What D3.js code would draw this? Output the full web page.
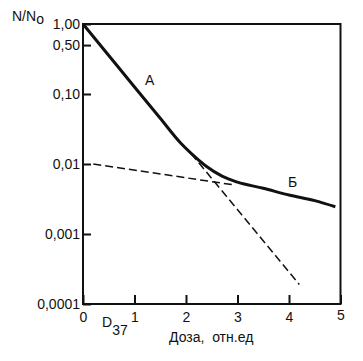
<!DOCTYPE html>
<html lang="ru">
<head>
  <meta charset="UTF-8" />
  <title>Кривая выживаемости</title>
  <script src="https://d3js.org/d3.v7.min.js"></script>
  <style>
    body { margin: 0; background: #fff; }
    svg { font-family: "Liberation Sans", Arial, sans-serif; }
    .axis text { font-size: 14px; fill: #111; }
    .lbl { font-size: 14px; fill: #111; }
  </style>
</head>
<body>
  <svg width="363" height="361"></svg>

  <script>
    // survival curve (dose, N/N0)
    const dose = [0, 0.5, 1.0, 1.5, 1.9, 2.1, 2.4, 2.7, 3.0, 3.5, 4.0, 4.5, 4.9];
    const survival = [1.0, 0.355, 0.126, 0.045, 0.0198, 0.0142, 0.0092, 0.0067, 0.0055, 0.0045, 0.0036, 0.003, 0.00245];

    // extrapolations (dashed)
    const steepDose = [2.1, 4.2];
    const steepVal = [0.0141, 0.00019];
    const shallowDose = [0.2, 2.95];
    const shallowVal = [0.01, 0.005];

    const xTicks = [0, 1, 2, 3, 4, 5];
    const yTicks = [1, 0.5, 0.1, 0.01, 0.001, 0.0001];
    const yTickLabels = ["1,00", "0,50", "0,10", "0,01", "0,001", "0,0001"];

    const mLeft = 83, mRight = 340.5, mTop = 24, mBottom = 304;

    const svg = d3.select("svg");

    const x = d3.scaleLinear().domain([0, 5]).range([mLeft, mRight]);
    const y = d3.scaleLog().domain([0.0001, 1]).range([mBottom, mTop]);

    // axes
    const xAxis = d3.axisBottom(x)
      .tickValues(xTicks)
      .tickFormat(d3.format("d"))
      .tickSizeInner(-9)
      .tickSizeOuter(0)
      .tickPadding(8);

    const yAxis = d3.axisLeft(y)
      .tickValues(yTicks)
      .tickFormat((d, i) => yTickLabels[i])
      .tickSizeInner(-8)
      .tickSizeOuter(0)
      .tickPadding(3);

    const gx = svg.append("g")
      .attr("class", "axis")
      .attr("transform", `translate(0,${mBottom})`)
      .call(xAxis);
    gx.select(".domain").remove();
    gx.selectAll("line").attr("stroke", "#111").attr("stroke-width", 2);
    gx.selectAll("text").attr("font-family", null).attr("font-size", null);
    gx.selectAll(".tick").filter(d => d === 5).select("text").attr("y", 6);

    const gy = svg.append("g")
      .attr("class", "axis")
      .attr("transform", `translate(${mLeft},0)`)
      .call(yAxis);
    gy.select(".domain").remove();
    gy.selectAll("line").attr("stroke", "#111").attr("stroke-width", 2);
    gy.selectAll("text").attr("font-family", null).attr("font-size", null);

    // frame
    svg.append("rect")
      .attr("x", mLeft).attr("y", mTop)
      .attr("width", mRight - mLeft).attr("height", mBottom - mTop)
      .attr("fill", "none")
      .attr("stroke", "#111")
      .attr("stroke-width", 2);

    const line = d3.line()
      .x(d => x(d[0]))
      .y(d => y(d[1]));

    // dashed extrapolations
    svg.append("path")
      .datum(d3.zip(shallowDose, shallowVal))
      .attr("d", line)
      .attr("fill", "none")
      .attr("stroke", "#111")
      .attr("stroke-width", 1.5)
      .attr("stroke-dasharray", "8,4");

    svg.append("path")
      .datum(d3.zip(steepDose, steepVal))
      .attr("d", line)
      .attr("fill", "none")
      .attr("stroke", "#111")
      .attr("stroke-width", 1.5)
      .attr("stroke-dasharray", "8,4");

    // main curve
    svg.append("path")
      .datum(d3.zip(dose, survival))
      .attr("d", line.curve(d3.curveMonotoneX))
      .attr("fill", "none")
      .attr("stroke", "#111")
      .attr("stroke-width", 3);

    // labels
    const yl = svg.append("text").attr("class", "lbl").attr("x", 12).attr("y", 21);
    yl.append("tspan").text("N/N");
    yl.append("tspan").attr("dy", 3).text("o");

    const d37 = svg.append("text").attr("class", "lbl").attr("x", 102).attr("y", 327);
    d37.append("tspan").text("D");
    d37.append("tspan").attr("dy", 8).text("37");

    svg.append("text").attr("class", "lbl")
      .attr("x", 169).attr("y", 342)
      .attr("xml:space", "preserve")
      .style("white-space", "pre")
      .text("Доза,  отн.ед");

    svg.append("text").attr("class", "lbl").attr("x", 145).attr("y", 85).text("А");
    svg.append("text").attr("class", "lbl").attr("x", 288).attr("y", 187).text("Б");
  </script>
</body>
</html>
